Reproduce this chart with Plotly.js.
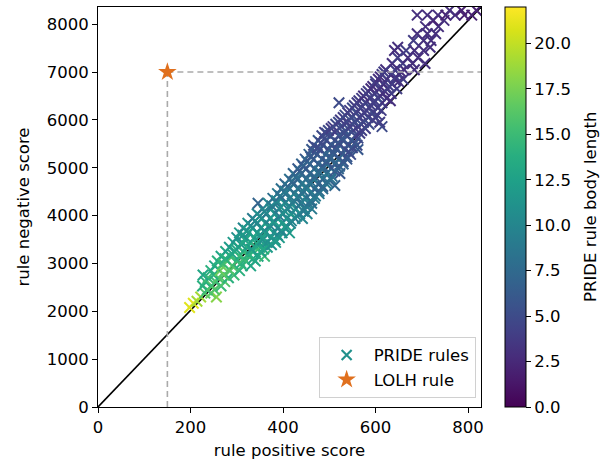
<!DOCTYPE html>
<html>
<head>
<meta charset="utf-8">
<script src="https://cdn.plot.ly/plotly-3.0.1.min.js"></script>
<style>html,body{margin:0;padding:0;background:#fff;}#chart{width:606px;height:463px;}</style>
</head>
<body>
<div id="chart"></div>
<script>
// PRIDE rules: positive score, negative score, body length
const posScore = [
  198, 206, 214, 222, 256, 231, 244, 236, 252,
  226, 246, 266, 232, 254, 274, 238, 260, 282,
  227, 250, 272, 294, 244, 264, 286, 306,
  252, 268, 290, 312, 330, 258, 280, 300, 320, 340,
  266, 286, 306, 326, 346, 360, 276, 296, 314, 334, 352,
  284, 304, 322, 340, 350, 366, 292, 312, 330, 348, 366, 384,
  300, 320, 338, 356, 374, 392, 306, 326, 344, 362, 380, 398, 414,
  314, 334, 352, 370, 388, 406, 324, 344, 362, 380, 398, 416,
  334, 354, 372, 390, 408, 426, 442, 344, 364, 382, 400, 418, 436, 452,
  356, 374, 392, 410, 428, 446, 462,
  346, 368, 386, 404, 420, 438, 455, 462,
  378, 396, 414, 432, 450, 468, 388, 406, 424, 442, 460, 478,
  396, 414, 432, 450, 468, 486, 512,
  404, 422, 440, 458, 476, 494, 414, 432, 450, 468, 486, 504,
  422, 440, 458, 476, 494, 523, 432, 450, 468, 486, 504, 520,
  440, 458, 476, 494, 512, 530, 448, 466, 484, 502, 520, 538,
  456, 474, 492, 510, 528, 546, 462, 480, 498, 516, 534, 562,
  466, 486, 504, 522, 540, 560, 476, 494, 512, 530, 548,
  484, 502, 520, 538, 556, 490,
  498, 516, 534, 552, 570, 508, 526, 544, 562, 614,
  520, 538, 556, 574, 609, 530, 548, 566, 584, 600,
  540, 558, 576, 594, 550, 568, 587, 605,
  521, 560, 578, 596, 614, 570, 588, 606, 624,
  580, 598, 616, 634, 590, 608, 626, 646,
  600, 618, 636, 606, 624, 642, 660, 614, 634, 652,
  622, 642, 662, 684, 636, 659, 680, 707, 648, 670, 692,
  641, 666, 684, 704, 648, 718, 682, 704, 720,
  690, 712, 730, 708, 736, 725, 748,
  690, 712, 735, 752, 772, 792, 808, 760, 786, 818
];
const negScore = [
  2080, 2170, 2210, 2300, 2300, 2380, 2380, 2450, 2450,
  2530, 2530, 2530, 2620, 2620, 2620, 2700, 2700, 2700,
  2760, 2760, 2760, 2760, 2850, 2850, 2850, 2850,
  2950, 2950, 2950, 2950, 2950, 3050, 3050, 3050, 3050, 3050,
  3150, 3150, 3150, 3150, 3150, 3150, 3250, 3250, 3250, 3250, 3250,
  3340, 3340, 3340, 3340, 3340, 3340, 3440, 3440, 3440, 3440, 3440, 3440,
  3540, 3540, 3540, 3540, 3540, 3540, 3640, 3640, 3640, 3640, 3640, 3640, 3640,
  3740, 3740, 3740, 3740, 3740, 3740, 3840, 3840, 3840, 3840, 3840, 3840,
  3940, 3940, 3940, 3940, 3940, 3940, 3940, 4040, 4040, 4040, 4040, 4040, 4040, 4040,
  4140, 4140, 4140, 4140, 4140, 4140, 4140,
  4260, 4260, 4260, 4260, 4260, 4260, 4260, 4260,
  4360, 4360, 4360, 4360, 4360, 4360, 4460, 4460, 4460, 4460, 4460, 4460,
  4560, 4560, 4560, 4560, 4560, 4560, 4630,
  4660, 4660, 4660, 4660, 4660, 4660, 4760, 4760, 4760, 4760, 4760, 4760,
  4880, 4880, 4880, 4880, 4880, 4880, 4980, 4980, 4980, 4980, 4980, 4980,
  5080, 5080, 5080, 5080, 5080, 5080, 5180, 5180, 5180, 5180, 5180, 5180,
  5280, 5280, 5280, 5280, 5280, 5280, 5380, 5380, 5380, 5380, 5380, 5380,
  5470, 5470, 5470, 5470, 5470, 5470, 5570, 5570, 5570, 5570, 5570,
  5670, 5670, 5670, 5670, 5670, 5740,
  5780, 5780, 5780, 5780, 5780, 5860, 5860, 5860, 5860, 5860,
  5950, 5950, 5950, 5950, 5950, 6050, 6050, 6050, 6050, 6050,
  6150, 6150, 6150, 6150, 6250, 6250, 6250, 6250,
  6360, 6360, 6360, 6360, 6360, 6450, 6450, 6450, 6450,
  6550, 6550, 6550, 6550, 6650, 6650, 6650, 6650,
  6750, 6750, 6750, 6850, 6850, 6850, 6850, 6950, 6950, 6950,
  7050, 7050, 7050, 7050, 7180, 7180, 7180, 7180, 7300, 7300, 7300,
  7450, 7450, 7450, 7450, 7520, 7520, 7660, 7660, 7660,
  7800, 7800, 7800, 7950, 7950, 8080, 8080,
  8190, 8190, 8190, 8190, 8190, 8190, 8190, 8290, 8290, 8290
];
const bodyLength = [
  21, 21, 19, 19, 18, 16, 17, 15, 16,
  14, 16, 15, 14, 15, 16, 15, 16, 14,
  13, 14, 16, 15, 14, 17, 16, 14,
  13, 17, 16, 15, 13, 14, 16, 15, 14, 13,
  13, 15, 14, 15, 13, 15, 13, 14, 15, 13, 12,
  12, 14, 13, 14, 15, 12, 12, 13, 14, 12, 11, 12,
  11, 13, 12, 13, 11, 12, 12, 11, 13, 12, 11, 10, 12,
  10, 12, 11, 13, 10, 11, 11, 10, 12, 11, 12, 10,
  9, 11, 10, 12, 11, 9, 10, 10, 9, 11, 10, 12, 9, 10,
  9, 11, 10, 9, 11, 10, 9,
  7, 10, 9, 11, 10, 8, 9, 8,
  8, 10, 9, 8, 10, 9, 9, 8, 10, 9, 8, 9,
  8, 9, 8, 10, 7, 8, 7,
  7, 8, 9, 8, 7, 9, 8, 7, 8, 9, 7, 8,
  7, 8, 7, 8, 9, 6, 6, 7, 8, 7, 8, 7,
  7, 6, 7, 8, 6, 7, 6, 7, 6, 7, 8, 6,
  7, 6, 7, 6, 7, 5, 6, 5, 7, 6, 5, 6,
  5, 6, 5, 7, 6, 5, 6, 5, 6, 5, 6,
  5, 6, 5, 6, 5, 4,
  5, 4, 6, 5, 4, 4, 5, 5, 4, 5,
  5, 4, 5, 4, 4, 4, 5, 4, 5, 4,
  4, 5, 4, 5, 5, 4, 4, 4,
  5, 4, 5, 4, 4, 4, 4, 5, 3,
  4, 4, 3, 4, 3, 4, 4, 4,
  4, 3, 4, 3, 4, 3, 4, 4, 3, 4,
  3, 4, 3, 3, 3, 4, 3, 3, 4, 3, 3,
  3, 4, 3, 3, 3, 3, 4, 3, 3,
  3, 3, 3, 3, 3, 2, 3,
  3, 3, 3, 2, 3, 2, 2, 3, 2, 2
];

// more PRIDE rules filling the dense middle of the band
const posScoreB = [
  270, 309, 275, 315, 335, 290, 326, 298, 332, 358,
  310, 345, 375, 318, 356, 383, 313, 350, 388, 322, 360, 396,
  330, 372, 407, 340, 380, 418, 350, 392, 430, 360, 404, 444,
  376, 414, 450, 386, 424, 460, 394, 434, 470, 404, 444, 478,
  410, 450, 486, 420, 460, 496, 428, 468, 506, 436, 478, 512,
  444, 486, 522, 452, 494, 530, 460, 502, 538, 468, 508, 542,
  474, 514, 550, 482, 520, 556, 490, 528, 562, 494, 532, 566,
  504, 540, 578, 514, 550, 586, 524, 560, 594, 534, 570, 604,
  544, 580, 612, 554, 590, 564, 598, 632, 574, 610,
  584, 620, 594, 630, 600, 650, 610, 644, 618, 655
];
const negScoreB = [
  3000, 3000, 3100, 3100, 3100, 3200, 3200, 3300, 3300, 3300,
  3390, 3390, 3390, 3490, 3490, 3490, 3590, 3590, 3590, 3690, 3690, 3690,
  3790, 3790, 3790, 3890, 3890, 3890, 3990, 3990, 3990, 4090, 4090, 4090,
  4200, 4200, 4200, 4310, 4310, 4310, 4410, 4410, 4410, 4510, 4510, 4510,
  4610, 4610, 4610, 4710, 4710, 4710, 4820, 4820, 4820, 4930, 4930, 4930,
  5030, 5030, 5030, 5130, 5130, 5130, 5230, 5230, 5230, 5330, 5330, 5330,
  5420, 5420, 5420, 5520, 5520, 5520, 5620, 5620, 5620, 5720, 5720, 5720,
  5820, 5820, 5820, 5910, 5910, 5910, 6000, 6000, 6000, 6100, 6100, 6100,
  6200, 6200, 6200, 6300, 6300, 6400, 6400, 6400, 6500, 6500,
  6600, 6600, 6700, 6700, 6800, 6800, 6900, 6900, 7000, 7000
];
const bodyLengthB = [
  15, 14, 14, 15, 13, 13, 14, 13, 12, 13,
  12, 13, 11, 13, 11, 12, 11, 12, 11, 12, 11, 10,
  11, 10, 12, 10, 12, 10, 11, 9, 10, 10, 11, 9,
  9, 10, 9, 10, 9, 8, 8, 9, 9, 9, 8, 8,
  8, 9, 7, 7, 8, 8, 8, 7, 8, 7, 8, 6,
  6, 7, 7, 7, 6, 6, 6, 7, 6, 6, 6, 5,
  5, 6, 5, 5, 5, 6, 5, 6, 5, 5, 5, 4,
  4, 5, 4, 5, 4, 5, 4, 5, 4, 5, 4, 4,
  4, 4, 4, 4, 4, 4, 4, 3, 3, 4,
  4, 3, 3, 4, 4, 3, 3, 4, 4, 3
];

// LOLH rule
const lolhPos = [150];
const lolhNeg = [7000];

// reference lines
const diagX = [0, 828];
const diagY = [0, 8360];
const guideVX = [150, 150];
const guideVY = [0, 7000];
const guideHX = [150, 828];
const guideHY = [7000, 7000];

const xTicks = [0, 200, 400, 600, 800];
const yTicks = [0, 1000, 2000, 3000, 4000, 5000, 6000, 7000, 8000];
const cbTicks = [0, 2.5, 5, 7.5, 10, 12.5, 15, 17.5, 20];

const FONT = 'DejaVu Sans, sans-serif';
const FS = 16.5;

const allPos = posScore.concat(posScoreB);
const allNeg = negScore.concat(negScoreB);
const allLen = bodyLength.concat(bodyLengthB);

const traces = [
  {x: diagX, y: diagY, mode: 'lines', line: {color: '#000000', width: 1.6}, showlegend: false, hoverinfo: 'skip'},
  {
    x: allPos, y: allNeg, mode: 'markers', name: 'PRIDE rules', showlegend: false,
    marker: {
      symbol: 'x-thin-open', size: 10.5, line: {width: 2},
      color: allLen, colorscale: 'Viridis', cmin: 0, cmax: 22,
      colorbar: {
        x: 1.0627, xanchor: 'left', xpad: 0, ypad: 0, y: 0.5, yanchor: 'middle',
        len: 1, lenmode: 'fraction', thickness: 21,
        outlinewidth: 1, outlinecolor: '#000000',
        tickvals: cbTicks, ticktext: cbTicks.map(v => v.toFixed(1)),
        ticks: 'outside', ticklen: 5, tickwidth: 1, tickcolor: '#000',
        tickfont: {family: FONT, size: FS, color: '#000'}
      }
    }
  },
  {x: guideVX, y: guideVY, mode: 'lines', line: {color: '#aaaaaa', width: 1.6, dash: '6px,4px'}, showlegend: false, hoverinfo: 'skip'},
  {x: guideHX, y: guideHY, mode: 'lines', line: {color: '#aaaaaa', width: 1.6, dash: '6px,4px'}, showlegend: false, hoverinfo: 'skip'},
  {x: [null], y: [null], mode: 'markers', name: 'PRIDE rules',
   marker: {symbol: 'x-thin-open', size: 10, color: '#21918c', line: {width: 2.2}}},
  {x: lolhPos, y: lolhNeg, mode: 'markers', name: 'LOLH rule',
   marker: {symbol: 'star', size: 14, color: '#e0701e', line: {width: 0}}}
];

const layout = {
  width: 606, height: 463,
  margin: {l: 98, r: 125, t: 7, b: 56},
  paper_bgcolor: '#ffffff', plot_bgcolor: '#ffffff',
  font: {family: FONT, size: FS, color: '#000'},
  showlegend: true,
  legend: {
    x: 0.986, xanchor: 'right', y: 0.023, yanchor: 'bottom',
    bgcolor: 'rgba(255,255,255,0.85)', bordercolor: '#d0d0d0', borderwidth: 1,
    font: {family: FONT, size: FS, color: '#000'}, tracegroupgap: 0, itemwidth: 44
  },
  annotations: [{
    xref: 'paper', yref: 'paper', x: 1.2846, y: 0.5, xanchor: 'center', yanchor: 'middle',
    text: 'PRIDE rule body length', textangle: -90, showarrow: false,
    font: {family: FONT, size: FS, color: '#000'}
  }],
  xaxis: {
    range: [0, 828], tickvals: xTicks, ticks: 'outside', ticklen: 5, tickwidth: 1, tickcolor: '#000',
    showline: true, mirror: true, linecolor: '#000', linewidth: 1, showgrid: false, zeroline: false,
    tickfont: {family: FONT, size: FS, color: '#000'},
    title: {text: 'rule positive score', standoff: 8, font: {family: FONT, size: FS, color: '#000'}},
    automargin: false
  },
  yaxis: {
    range: [0, 8360], tickvals: yTicks, ticks: 'outside', ticklen: 5, tickwidth: 1, tickcolor: '#000',
    showline: true, mirror: true, linecolor: '#000', linewidth: 1, showgrid: false, zeroline: false,
    tickfont: {family: FONT, size: FS, color: '#000'},
    title: {text: 'rule negative score', standoff: 12, font: {family: FONT, size: FS, color: '#000'}},
    automargin: false
  }
};

Plotly.newPlot('chart', traces, layout, {displayModeBar: false, staticPlot: true});
</script>
</body>
</html>
